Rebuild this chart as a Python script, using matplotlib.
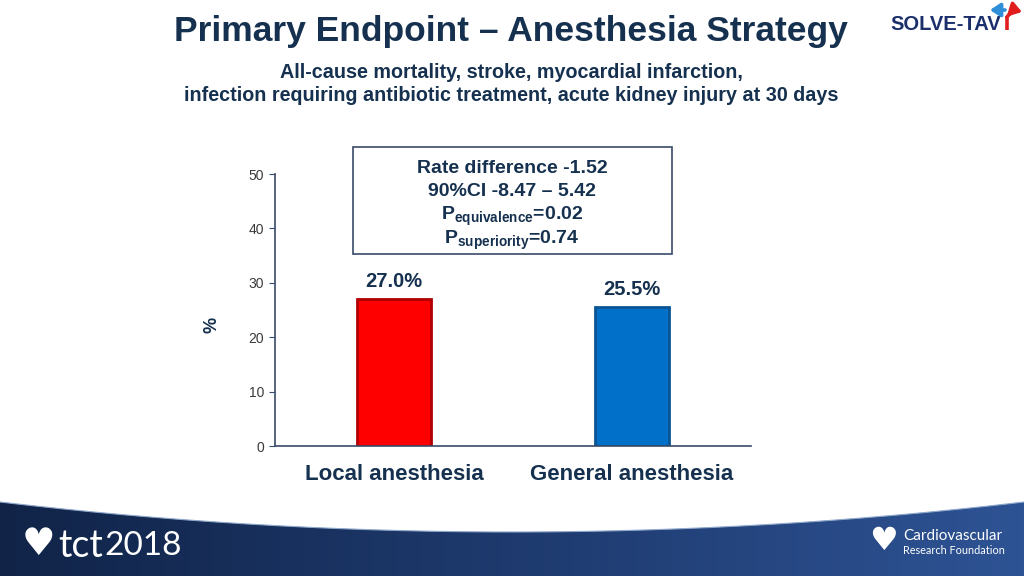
import numpy as np
import matplotlib
matplotlib.use('Agg')
from matplotlib import pyplot as plt
from matplotlib.patches import Rectangle, FancyArrowPatch

# chart data
categories = ['Local anesthesia', 'General anesthesia']
rates = [27.0, 25.5]
value_labels = ['27.0%', '25.5%']
bar_colors = ['#FF0000', '#0070C8']
edge_colors = ['#B00000', '#0A5493']
yticks = [0, 10, 20, 30, 40, 50]

stats_lines = ['Rate difference -1.52',
               '90%CI -8.47 \u2013 5.42',
               r'P$_{equivalence}$=0.02',
               r'P$_{superiority}$=0.74']

navy = '#15314F'

plt.rcParams['font.family'] = ['Liberation Sans', 'DejaVu Sans']
plt.rcParams['mathtext.fontset'] = 'custom'
plt.rcParams['mathtext.rm'] = 'Liberation Sans:bold'
plt.rcParams['mathtext.it'] = 'Liberation Sans:bold'
plt.rcParams['mathtext.bf'] = 'Liberation Sans:bold'

fig = plt.figure(figsize=(10.24, 5.76), dpi=100)

# background layer: bottom banner with a curved top edge
bg = fig.add_axes([0, 0, 1, 1], zorder=0)
bg.axis('off')
grad = np.linspace(0, 1, 256).reshape(1, -1)
cmap = matplotlib.colors.LinearSegmentedColormap.from_list('band', ['#112448', '#1E3A6E', '#2E5394'])
bg.imshow(grad, cmap=cmap, extent=[0, 1024, 576, 495], aspect='auto', zorder=0)
xs = np.linspace(0, 1024, 300)
curve = 532 - 30 * ((xs - 512) / 512) ** 2
bg.fill_between(xs, 490, curve, color='white', zorder=1, lw=0)
bg.plot(xs, curve, color='#8FA8CC', lw=0.8, zorder=2)
bg.set_xlim(0, 1024)
bg.set_ylim(576, 0)

# logos as text
bg.text(38, 545, '\u2665', color='white', fontsize=27, ha='center', va='center',
        family='DejaVu Sans', zorder=3)
t1 = bg.text(58, 546, 'tct', color='white', fontsize=27, ha='left', va='center',
             family='Lato', zorder=3)
bg.annotate('2018', xy=(1, 0.5), xycoords=t1, xytext=(1, 0), textcoords='offset points',
            color='white', fontsize=24, ha='left', va='center', family='Lato', zorder=3)
bg.text(884, 541, '\u2665', color='white', fontsize=23, ha='center', va='center',
        family='DejaVu Sans', zorder=3)
bg.text(903, 536, 'Cardiovascular', color='white', fontsize=11, ha='left', va='center',
        family='Lato', zorder=3)
bg.text(903, 551, 'Research Foundation', color='white', fontsize=7.8, ha='left', va='center',
        family='Lato', zorder=3)

# SOLVE-TAV logo
bg.text(890, 25, 'SOLVE-TAV', color='#1B2F6B', fontsize=14.5, fontweight='bold',
        ha='left', va='center', zorder=3)
bg.plot([1007, 1007], [30, 16], color='#E01E1E', lw=2.6, solid_capstyle='butt', zorder=3)
bg.add_patch(FancyArrowPatch((1007, 17), (1022, 12), connectionstyle='arc3,rad=-0.35',
                             arrowstyle='-|>,head_width=0.4,head_length=0.6', mutation_scale=10,
                             shrinkA=0, shrinkB=0, color='#E01E1E', lw=2.6, zorder=3))
bg.add_patch(FancyArrowPatch((1005, 10), (990, 10),
                             arrowstyle='-|>,head_width=0.4,head_length=0.6', mutation_scale=10,
                             shrinkA=0, shrinkB=0, color='#2F8FD8', lw=2.6, zorder=3))

# titles
fig.text(0.499, 0.946, 'Primary Endpoint \u2013 Anesthesia Strategy', ha='center', va='center',
         fontsize=25.5, fontweight='bold', color=navy)
fig.text(0.499, 0.875, 'All-cause mortality, stroke, myocardial infarction,', ha='center', va='center',
         fontsize=14.2, fontweight='bold', color=navy)
fig.text(0.499, 0.835, 'infection requiring antibiotic treatment, acute kidney injury at 30 days',
         ha='center', va='center', fontsize=14.2, fontweight='bold', color=navy)

# bar chart
ax = fig.add_axes([275 / 1024, 1 - 446 / 576, 476 / 1024, 272 / 576], zorder=2)
ax.patch.set_alpha(0)
x = np.arange(len(categories))
bars = ax.bar(x, rates, width=0.315, color=bar_colors, edgecolor=edge_colors, linewidth=2)
for b, lab in zip(bars, value_labels):
    ax.annotate(lab, (b.get_x() + b.get_width() / 2, b.get_height()), xytext=(0, 6),
                textcoords='offset points', ha='center', va='bottom',
                fontsize=14.5, fontweight='bold', color=navy)
ax.set_xlim(-0.5, 1.5)
ax.set_ylim(0, 50)
ax.set_yticks(yticks)
ax.set_xticks(x)
ax.set_xticklabels(categories, fontsize=16, fontweight='bold', color=navy)
ax.tick_params(axis='x', length=0, pad=13)
ax.tick_params(axis='y', length=4, color='#3A4A6A', labelsize=10, labelcolor='#3A3A3A', pad=4)
for s in ['top', 'right']:
    ax.spines[s].set_visible(False)
for s in ['left', 'bottom']:
    ax.spines[s].set_color('#3A4A6A')
    ax.spines[s].set_linewidth(1.2)
ax.set_ylabel('%', fontsize=13, fontweight='bold', color=navy)
ax.yaxis.set_label_coords(-0.114, 0.445)

# statistics box
fig.patches.append(Rectangle((353 / 1024, 1 - 254 / 576), 319 / 1024, 107 / 576,
                             transform=fig.transFigure, facecolor='white',
                             edgecolor='#3A4A6A', lw=1.2, zorder=3))
line_y = [168, 192, 216, 240]
for yy, txt in zip(line_y, stats_lines):
    fig.text(512 / 1024, 1 - yy / 576, txt, ha='center', va='center', fontsize=14,
             fontweight='bold', color=navy, zorder=4)

fig.savefig('out.png', dpi=100)
